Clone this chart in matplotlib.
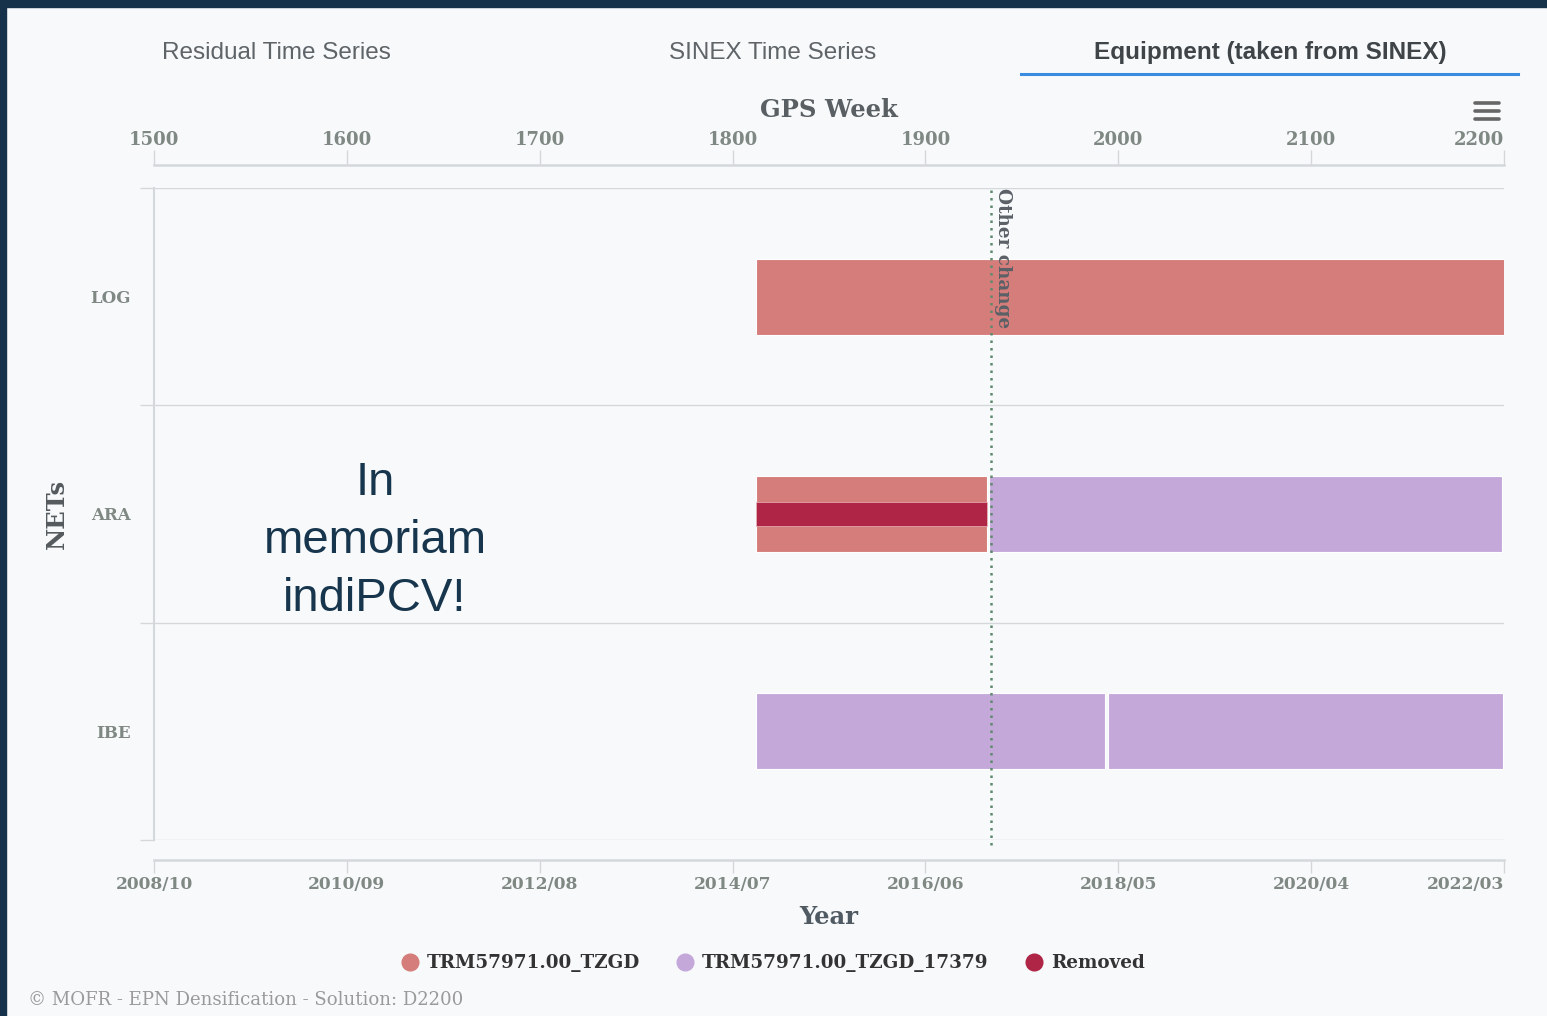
import matplotlib.pyplot as plt
from matplotlib.lines import Line2D
from matplotlib.patches import Rectangle

W, H = 1547, 1016

nets = ['LOG', 'ARA', 'IBE']
gps_ticks = [1500, 1600, 1700, 1800, 1900, 2000, 2100, 2200]
year_labels = ['2008/10', '2010/09', '2012/08', '2014/07', '2016/06', '2018/05', '2020/04', '2022/03']

tzgd_net = ['LOG', 'ARA']
tzgd_start = [1812, 1812]
tzgd_end = [2200.5, 1932]

tzgd17379_net = ['ARA', 'IBE', 'IBE']
tzgd17379_start = [1933, 1812, 1994.5]
tzgd17379_end = [2199, 1993, 2199.5]

removed_net = ['ARA']
removed_start = [1812]
removed_end = [1932]

other_change_week = 1934

c_tzgd = '#d47d7a'
c_17379 = '#c4a8da'
c_removed = '#ae2545'
bg = '#f7f9fb'
tick_col = '#7f8883'
line_col = '#d5d8db'
PX = 72 / 100  # points per pixel


def fx(x):
    return x / W


def fy(y):
    return 1 - y / H


fig = plt.figure(figsize=(W / 100, H / 100), dpi=100, facecolor=bg)
serif = 'DejaVu Serif'

# dark frame
fig.patches.append(Rectangle((0, fy(7)), 1, 7 / H, transform=fig.transFigure, color='#16324a', zorder=0))
fig.patches.append(Rectangle((0, 0), fx(6), 1, transform=fig.transFigure, color='#16324a', zorder=0))

# tabs
fig.text(fx(276), fy(53), 'Residual Time Series', ha='center', va='center', fontsize=17.5,
         family='Liberation Sans', color='#5f6468')
fig.text(fx(773), fy(53), 'SINEX Time Series', ha='center', va='center', fontsize=17.5,
         family='Liberation Sans', color='#5f6468')
fig.text(fx(1270), fy(53), 'Equipment (taken from SINEX)', ha='center', va='center', fontsize=17.5,
         family='Liberation Sans', color='#3f4448', weight='bold')
fig.lines.append(Line2D([fx(1021), fx(1518)], [fy(74), fy(74)], transform=fig.transFigure,
                        color='#3a8dde', lw=2.2))

# hamburger menu
for yy in [103, 111, 119]:
    fig.lines.append(Line2D([fx(1475), fx(1499)], [fy(yy), fy(yy)], transform=fig.transFigure,
                            color='#666666', lw=2.6, solid_capstyle='round'))

ax = fig.add_axes([fx(154), fy(840), (1504 - 154) / W, (840 - 188) / H])
ax.set_facecolor(bg)

yidx = {n: i for i, n in enumerate(nets)}
bh = 0.35

ax.barh([yidx[n] for n in tzgd_net], [e - s for s, e in zip(tzgd_start, tzgd_end)], left=tzgd_start,
        height=bh, color=c_tzgd, edgecolor='white', linewidth=0.8, zorder=3)
ax.barh([yidx[n] for n in tzgd17379_net], [e - s for s, e in zip(tzgd17379_start, tzgd17379_end)],
        left=tzgd17379_start, height=bh, color=c_17379, edgecolor='white', linewidth=0.8, zorder=3)
ax.barh([yidx[n] for n in removed_net], [e - s for s, e in zip(removed_start, removed_end)],
        left=removed_start, height=0.115, color=c_removed, edgecolor='#e8b5bb', linewidth=0.5, zorder=4)

ax.axvline(other_change_week, ymin=-0.008, ymax=1, color='#5f8a6e', lw=1.8, ls=(0, (1, 2)), zorder=5,
           clip_on=False)
ax.text(other_change_week + 6, -0.5, 'Other change', rotation=270, ha='center', va='top',
        fontsize=13.2, family=serif, weight='bold', color='#5a6066', zorder=6)

ax.set_xlim(1500, 2200)
ax.set_ylim(2.5, -0.5)

# category axis
ax.set_yticks([-0.5, 0.5, 1.5, 2.5])
ax.set_yticklabels([])
ax.set_yticks(range(len(nets)), minor=True)
ax.set_yticklabels(nets, minor=True, family=serif, weight='bold', fontsize=12, color=tick_col)
ax.tick_params(axis='y', which='major', length=10, width=1, color=line_col, direction='out')
ax.tick_params(axis='y', which='minor', length=0, pad=17)
ax.grid(axis='y', which='major', color=line_col, lw=1)

for s in ['right', 'bottom']:
    ax.spines[s].set_visible(False)
ax.spines['left'].set_color(line_col)
ax.spines['left'].set_linewidth(1.5)

# bottom year axis
ax2 = ax.twiny()
ax2.set_xlim(ax.get_xlim())
ax2.xaxis.set_ticks_position('bottom')
ax2.spines['bottom'].set_position(('outward', 20 * PX))
for s in ['top', 'left', 'right']:
    ax2.spines[s].set_visible(False)
ax2.spines['bottom'].set_color(line_col)
ax2.spines['bottom'].set_linewidth(1.8)
ax2.set_xticks(gps_ticks)
ax2.set_xticklabels(year_labels, family=serif, weight='bold', fontsize=12.3, color=tick_col)
ax2.tick_params(axis='x', length=13 * PX, width=1, color=line_col, pad=2)
ax2.get_xticklabels()[-1].set_ha('right')

# top GPS week axis (after twiny, which moves ticks to the bottom)
ax.xaxis.tick_top()
ax.spines['bottom'].set_visible(False)
ax.spines['top'].set_visible(True)
ax.spines['top'].set_position(('outward', 23 * PX))
ax.spines['top'].set_color(line_col)
ax.spines['top'].set_linewidth(1.8)
ax.set_xticks(gps_ticks)
ax.set_xticklabels([str(t) for t in gps_ticks], family=serif, weight='bold', fontsize=13, color=tick_col)
ax.tick_params(axis='x', length=15 * PX, width=1, color=line_col, pad=1)
ax.get_xticklabels()[-1].set_ha('right')

fig.text(fx(829), fy(110), 'GPS Week', ha='center', va='center', family=serif, weight='bold',
         fontsize=17.5, color='#5a5f63')
fig.text(fx(829), fy(917), 'Year', ha='center', va='center', family=serif,
         weight='bold', fontsize=17.5, color='#4f5a62')
fig.text(fx(57), fy(514), 'NETs', ha='center', va='center', rotation=90, family=serif, weight='bold',
         fontsize=17.5, color='#555a5e')

fig.text(fx(375), fy(541), 'In\nmemoriam\nindiPCV!', ha='center', va='center', family='Liberation Sans',
         fontsize=34, color='#17364d', linespacing=1.41)

handles = [Line2D([], [], ls='none', marker='o', ms=12, color=c, mec=c)
           for c in [c_tzgd, c_17379, c_removed]]
leg = fig.legend(handles, ['TRM57971.00_TZGD', 'TRM57971.00_TZGD_17379', 'Removed'], loc='center',
                 bbox_to_anchor=(0.5, fy(963)), ncol=3, frameon=False, handlelength=0.8,
                 handletextpad=0.5, columnspacing=2.1,
                 prop={'family': serif, 'weight': 'bold', 'size': 13.2})
for t in leg.get_texts():
    t.set_color('#333333')

fig.text(fx(28), fy(1000), '\u00a9 MOFR - EPN Densification - Solution: D2200', ha='left', va='center',
         family=serif, fontsize=13.1, color='#9a9a9a')

fig.savefig('out.png', dpi=100, facecolor=bg)
